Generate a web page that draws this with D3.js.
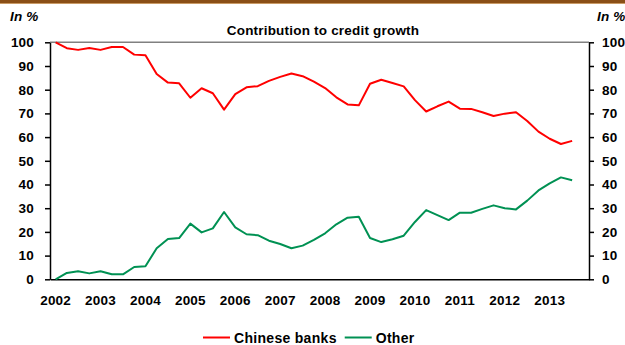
<!DOCTYPE html>
<html>
<head>
<meta charset="utf-8">
<script src="https://cdn.jsdelivr.net/npm/d3@7/dist/d3.min.js"></script>
<style>
  html, body { margin: 0; padding: 0; background: #fff; }
  svg { display: block; }
  text { font-family: "Liberation Sans", Arial, sans-serif; font-weight: bold; fill: #000; }
</style>
</head>
<body>
<svg id="chart" width="625" height="345"></svg>
<script>
// Quarterly periods, 2002 Q1 to 2013 Q4 (last quarter has no observation yet)
const years = d3.range(2002, 2014);
const quarters = years.flatMap(y => [1, 2, 3, 4].map(q => `${y}Q${q}`));

// Share of credit growth, in %
const chineseBanks = [100, 97.5, 96.8, 97.6, 96.8, 98, 98, 94.8, 94.5, 86.6, 83, 82.7,
  76.6, 80.6, 78.5, 71.6, 78.1, 81, 81.5, 83.7, 85.4, 86.8, 85.7, 83.4,
  80.7, 76.8, 73.8, 73.4, 82.5, 84.2, 82.8, 81.4, 75.6, 70.8, 73, 75,
  72, 71.9, 70.5, 68.9, 69.9, 70.5, 66.8, 62.3, 59.3, 57.1, 58.4];
const other = [0, 2.7, 3.4, 2.5, 3.4, 2.1, 2.1, 5.2, 5.5, 13.1, 17, 17.4,
  23.5, 19.8, 21.5, 28.4, 21.9, 19, 18.6, 16.3, 14.9, 13.1, 14.2, 16.6,
  19.4, 23.2, 26, 26.4, 17.4, 15.7, 16.9, 18.4, 24.2, 29.2, 27.1, 25,
  28.1, 28.1, 29.7, 31.2, 30, 29.5, 33.2, 37.5, 40.5, 43, 41.8];
const yTicks = [0, 10, 20, 30, 40, 50, 60, 70, 80, 90, 100];

const series = [
  { name: "Chinese banks", values: chineseBanks, color: "#ff0000" },
  { name: "Other", values: other, color: "#009153" }
];

const svg = d3.select("#chart");
const plotLeft = 50, plotRight = 589, plotTop = 42.3, plotBottom = 279.3;

const x = d3.scaleBand().domain(quarters).range([plotLeft, plotRight]);
const xc = q => x(q) + x.bandwidth() / 2;
const y = d3.scaleLinear().domain([0, 100]).range([plotBottom, plotTop]);

// header rule
svg.append("rect").attr("x", 0).attr("y", 0).attr("width", 625).attr("height", 3).attr("fill", "#8a4f17");
svg.append("rect").attr("x", 0).attr("y", 3).attr("width", 625).attr("height", 1).attr("fill", "#c99a66");

// unit labels and title
const fs = "13.5px";
svg.append("text").attr("x", 10).attr("y", 21).attr("font-style", "italic")
  .style("font-size", fs).style("letter-spacing", "0.2px").text("In %");
svg.append("text").attr("x", 597).attr("y", 21).attr("font-style", "italic")
  .style("font-size", fs).style("letter-spacing", "0.2px").text("In %");
svg.append("text").attr("x", 323).attr("y", 35).attr("text-anchor", "middle")
  .style("font-size", fs).style("letter-spacing", "0.2px").text("Contribution to credit growth");

// top frame line
svg.append("line").attr("x1", plotLeft).attr("x2", plotRight).attr("y1", plotTop).attr("y2", plotTop)
  .attr("stroke", "#808080").attr("stroke-width", 1.5);

// y axes (left and right)
const styleAxis = g => {
  g.select(".domain").attr("stroke", "#000").attr("stroke-width", 1.5);
  g.selectAll(".tick line").attr("stroke", "#000").attr("stroke-width", 1.5);
  g.selectAll(".tick text").style("font-size", fs).style("letter-spacing", "0.2px");
};
svg.append("g").attr("transform", `translate(${plotLeft},0)`)
  .call(d3.axisLeft(y).tickValues(yTicks).tickSize(5).tickSizeOuter(0).tickPadding(11))
  .call(styleAxis);
svg.append("g").attr("transform", `translate(${plotRight},0)`)
  .call(d3.axisRight(y).tickValues(yTicks).tickSize(5).tickSizeOuter(0).tickPadding(8))
  .call(styleAxis);

// x axis: year labels at first quarter
const xAxis = svg.append("g").attr("transform", `translate(0,${plotBottom})`)
  .call(d3.axisBottom(x).tickValues(quarters.filter(q => q.endsWith("Q1")))
    .tickFormat(q => q.slice(0, 4)).tickSize(0).tickSizeOuter(0).tickPadding(16));
xAxis.select(".domain").attr("stroke", "#000").attr("stroke-width", 1.5);
xAxis.selectAll(".tick text").style("font-size", fs).style("letter-spacing", "0.2px");

// series lines
const line = d3.line().x((d, i) => xc(quarters[i])).y(d => y(d));
series.forEach(s => {
  svg.append("path").datum(s.values).attr("d", line)
    .attr("fill", "none").attr("stroke", s.color).attr("stroke-width", 2)
    .attr("stroke-linejoin", "round");
});

// legend
const legend = svg.append("g").attr("transform", "translate(203,337.5)");
let lx = 0;
series.forEach(s => {
  legend.append("line").attr("x1", lx).attr("x2", lx + 27).attr("y1", 0).attr("y2", 0)
    .attr("stroke", s.color).attr("stroke-width", 2);
  const t = legend.append("text").attr("x", lx + 31).attr("y", 5)
    .style("font-size", "14px").style("letter-spacing", "0.3px").text(s.name);
  lx += 31 + t.node().getComputedTextLength() + 8;
});
</script>
</body>
</html>
